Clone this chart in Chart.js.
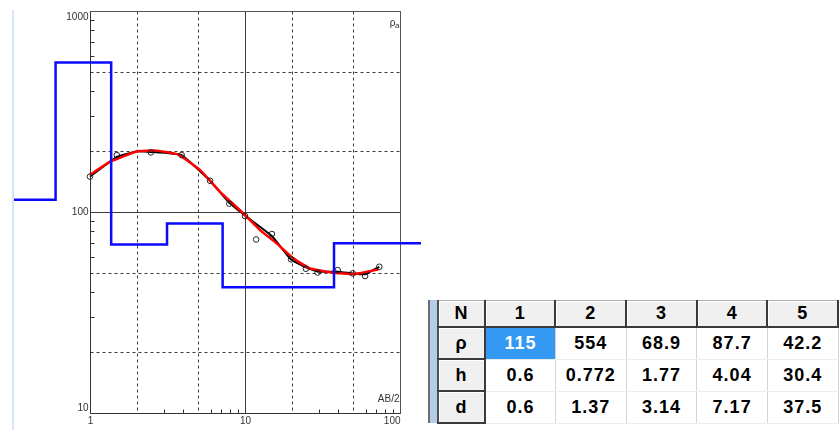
<!DOCTYPE html>
<html>
<head>
<meta charset="utf-8">
<script src="https://cdn.jsdelivr.net/npm/chart.js@4/dist/chart.umd.min.js"></script>
<style>
  html, body { margin: 0; padding: 0; background: #fff; overflow: hidden; }
  body { width: 839px; height: 430px; position: relative; }
  #curve { position: absolute; left: 0; top: 0; }
  .strip { position: absolute; left: 12px; top: 10px; width: 2px; height: 420px; background: #d6e4f5; }
  #model { position: absolute; left: 428px; top: 300px; height: 123px; border-left: 2px solid #6e6e6e;
           padding-left: 7px; background: #b4cde8; }
  #layers { border-collapse: collapse; table-layout: fixed; border-left: 2px solid #505050; background: #fff;
            font: bold 18px "Liberation Sans", Arial, sans-serif; letter-spacing: 1px; color: #000; }
  #layers th, #layers td { padding: 0; text-align: center; white-space: nowrap; overflow: hidden; }
  #layers th { background: #f0f0f0; border-right: 2px solid #3a3a3a; border-bottom: 2px solid #3a3a3a;
               box-shadow: inset 1px 1px 0 #fff; }
  #layers tr.top th { height: 25px; border-top: 1px solid #b0b0b0; }
  #layers tr.val th, #layers tr.val td { height: 30px; }
  #layers td { border-right: 1px solid #d4d4d4; border-bottom: 1px solid #ececec; }
  #layers td.sel { background: #3399f3; color: #fff; }
</style>
</head>
<body>
<div class="strip"></div>
<canvas id="curve" width="839" height="430"></canvas>
<div id="model"><table id="layers"></table></div>
<script>
// ось AB/2 чуть шире рамки графика: ступенчатая модель выходит за её края
const AB_MIN = 0.3235, AB_MAX = 136.5;
const RHO_MIN = 10, RHO_MAX = 1000;

// полевые замеры кажущегося сопротивления
const obsAB  = [1, 1.49, 2.47, 3.9, 5.95, 7.92, 10, 11.8, 14.9, 19.8, 24.7, 29.4, 39.6, 49.5, 59.5, 73.5];
const obsRho = [150, 192, 198, 192, 143, 110, 95.5, 73, 77.7, 58.1, 52.2, 50, 51.4, 49.5, 48, 53.4];

// сглаженная кривая замеров
const smAB  = [1, 1.49, 2.0, 2.47, 3.9, 5.95, 7.92, 10, 14.9, 19.8, 24.7, 29.4, 39.6, 49.5, 59.5, 73.5];
const smRho = [150, 188, 200, 199, 192, 143, 111, 96, 76, 58, 53, 50.5, 50.5, 49.5, 49, 53.4];

// теоретическая кривая по модели
const fitAB  = [1, 1.35, 2.0, 2.69, 3.71, 5.12, 6.9, 9.28, 12.5, 16.0, 20.5, 26.2, 37.1, 50.0, 61.0, 72.4];
const fitRho = [153, 178, 200, 202, 193, 162, 126, 102, 81.3, 69.8, 58.8, 52.4, 49.9, 49.1, 50.4, 51.8];

// слоистая модель: сопротивление, мощность, глубина подошвы
const layerRho = [115, 554, 68.9, 87.7, 42.2, 70];
const layerH   = [0.6, 0.772, 1.77, 4.04, 30.4];
const layerD   = [0.6, 1.37, 3.14, 7.17, 37.5];

// сетка и подписи осей
const xMajor = [1, 10, 100];
const yMajor = [10, 100, 1000];
const xDashed = [2, 5, 20, 50];
const yDashed = [20, 50, 200, 500];
const minorTicks = [3, 4, 6, 7, 8, 9, 30, 40, 60, 70, 80, 90, 300, 400, 600, 700, 800, 900];

const pts = (xs, ys) => xs.map((v, i) => ({ x: v, y: ys[i] }));

// ступенька модели: каждый слой от кровли до подошвы
function modelSteps() {
  const out = [];
  const tops = [AB_MIN, ...layerD];
  const bottoms = [...layerD, AB_MAX];
  layerRho.forEach((r, i) => {
    out.push({ x: tops[i], y: r });
    out.push({ x: bottoms[i], y: r });
  });
  return out;
}

const framePlugin = {
  id: 'frame',
  beforeDatasetsDraw(chart) {
    const { ctx } = chart;
    const x = chart.scales.x, y = chart.scales.y;
    const px = v => Math.round(x.getPixelForValue(v)) + 0.5;
    const py = v => Math.round(y.getPixelForValue(v)) + 0.5;
    const L = px(1), R = px(100), T = py(1000), B = py(10);

    ctx.save();
    ctx.lineWidth = 1;
    ctx.strokeStyle = '#3c3c3c';
    const seg = (x1, y1, x2, y2) => { ctx.beginPath(); ctx.moveTo(x1, y1); ctx.lineTo(x2, y2); ctx.stroke(); };

    ctx.setLineDash([3, 3]);
    xDashed.forEach(v => seg(px(v), T, px(v), B));
    yDashed.forEach(v => seg(L, py(v), R, py(v)));
    ctx.setLineDash([]);

    seg(px(10), T, px(10), B);
    seg(L, py(100), R, py(100));
    ctx.strokeStyle = '#555';
    ctx.strokeRect(L, T, R - L, B - T);
    ctx.strokeStyle = '#333';
    seg(L, T, L, B);
    seg(L, B, R, B);

    // короткие засечки на осях
    minorTicks.forEach(v => {
      if (v <= 100) seg(px(v), B, px(v), B - 4);
      if (v >= RHO_MIN && v <= RHO_MAX) seg(L, py(v), L + 4, py(v));
    });

    ctx.fillStyle = '#333';
    ctx.font = '10px "Liberation Sans Narrow", "Arial Narrow", sans-serif';
    ctx.textAlign = 'right';
    yMajor.forEach(v => {
      ctx.textBaseline = v === RHO_MAX ? 'top' : (v === RHO_MIN ? 'bottom' : 'middle');
      ctx.fillText(String(v), L - 2, py(v) + (v === RHO_MAX ? 1 : 0));
    });
    ctx.textBaseline = 'top';
    xMajor.forEach((v, i) => {
      ctx.textAlign = i === xMajor.length - 1 ? 'right' : 'center';
      ctx.fillText(String(v), px(v), B + 3);
    });

    ctx.textAlign = 'right';
    ctx.textBaseline = 'bottom';
    ctx.fillText('AB/2', R - 1, B - 9);
    ctx.font = '8px "Liberation Sans Narrow", "Arial Narrow", sans-serif';
    ctx.fillText('a', R - 1, T + 18);
    ctx.font = '10px "Liberation Sans Narrow", "Arial Narrow", sans-serif';
    ctx.fillText('ρ', R - 5, T + 17);
    ctx.restore();
  }
};

new Chart(document.getElementById('curve'), {
  type: 'line',
  data: {
    datasets: [
      {
        label: 'модель',
        data: modelSteps(),
        borderColor: '#0a0aff',
        borderWidth: 2.5,
        pointRadius: 0,
        tension: 0
      },
      {
        label: 'замеры',
        data: pts(obsAB, obsRho),
        showLine: false,
        pointRadius: 2.8,
        pointBorderWidth: 1,
        pointBorderColor: '#222',
        pointBackgroundColor: 'rgba(0,0,0,0)'
      },
      {
        label: 'теория',
        data: pts(fitAB, fitRho),
        borderColor: '#ff0000',
        borderWidth: 2.5,
        pointRadius: 0,
        tension: 0.12
      },
      {
        label: 'сглаж.',
        data: pts(smAB, smRho),
        borderColor: '#000',
        borderWidth: 2,
        pointRadius: 0,
        tension: 0.1
      }
    ]
  },
  options: {
    responsive: false,
    animation: false,
    devicePixelRatio: 1,
    layout: { padding: { left: 14, right: 418, top: 11, bottom: 17 } },
    plugins: { legend: { display: false }, tooltip: { enabled: false } },
    scales: {
      x: { type: 'logarithmic', display: false, min: AB_MIN, max: AB_MAX, bounds: 'data' },
      y: { type: 'logarithmic', display: false, min: RHO_MIN, max: RHO_MAX, bounds: 'data' }
    }
  },
  plugins: [framePlugin]
});

// таблица параметров слоёв
(function buildTable() {
  const table = document.getElementById('layers');
  const cg = document.createElement('colgroup');
  cg.innerHTML = '<col style="width:48px">' + layerH.map(() => '<col style="width:71.5px">').join('');
  table.appendChild(cg);

  const head = document.createElement('tr');
  head.className = 'top';
  head.innerHTML = '<th>N</th>' + layerH.map((_, i) => `<th>${i + 1}</th>`).join('');
  table.appendChild(head);

  const rows = [['ρ', layerRho.slice(0, layerH.length)], ['h', layerH], ['d', layerD]];
  rows.forEach(([name, vals], r) => {
    const tr = document.createElement('tr');
    tr.className = 'val';
    tr.innerHTML = `<th>${name}</th>` +
      vals.map((v, i) => `<td${r === 0 && i === 0 ? ' class="sel"' : ''}>${v}</td>`).join('');
    table.appendChild(tr);
  });
})();
</script>
</body>
</html>
